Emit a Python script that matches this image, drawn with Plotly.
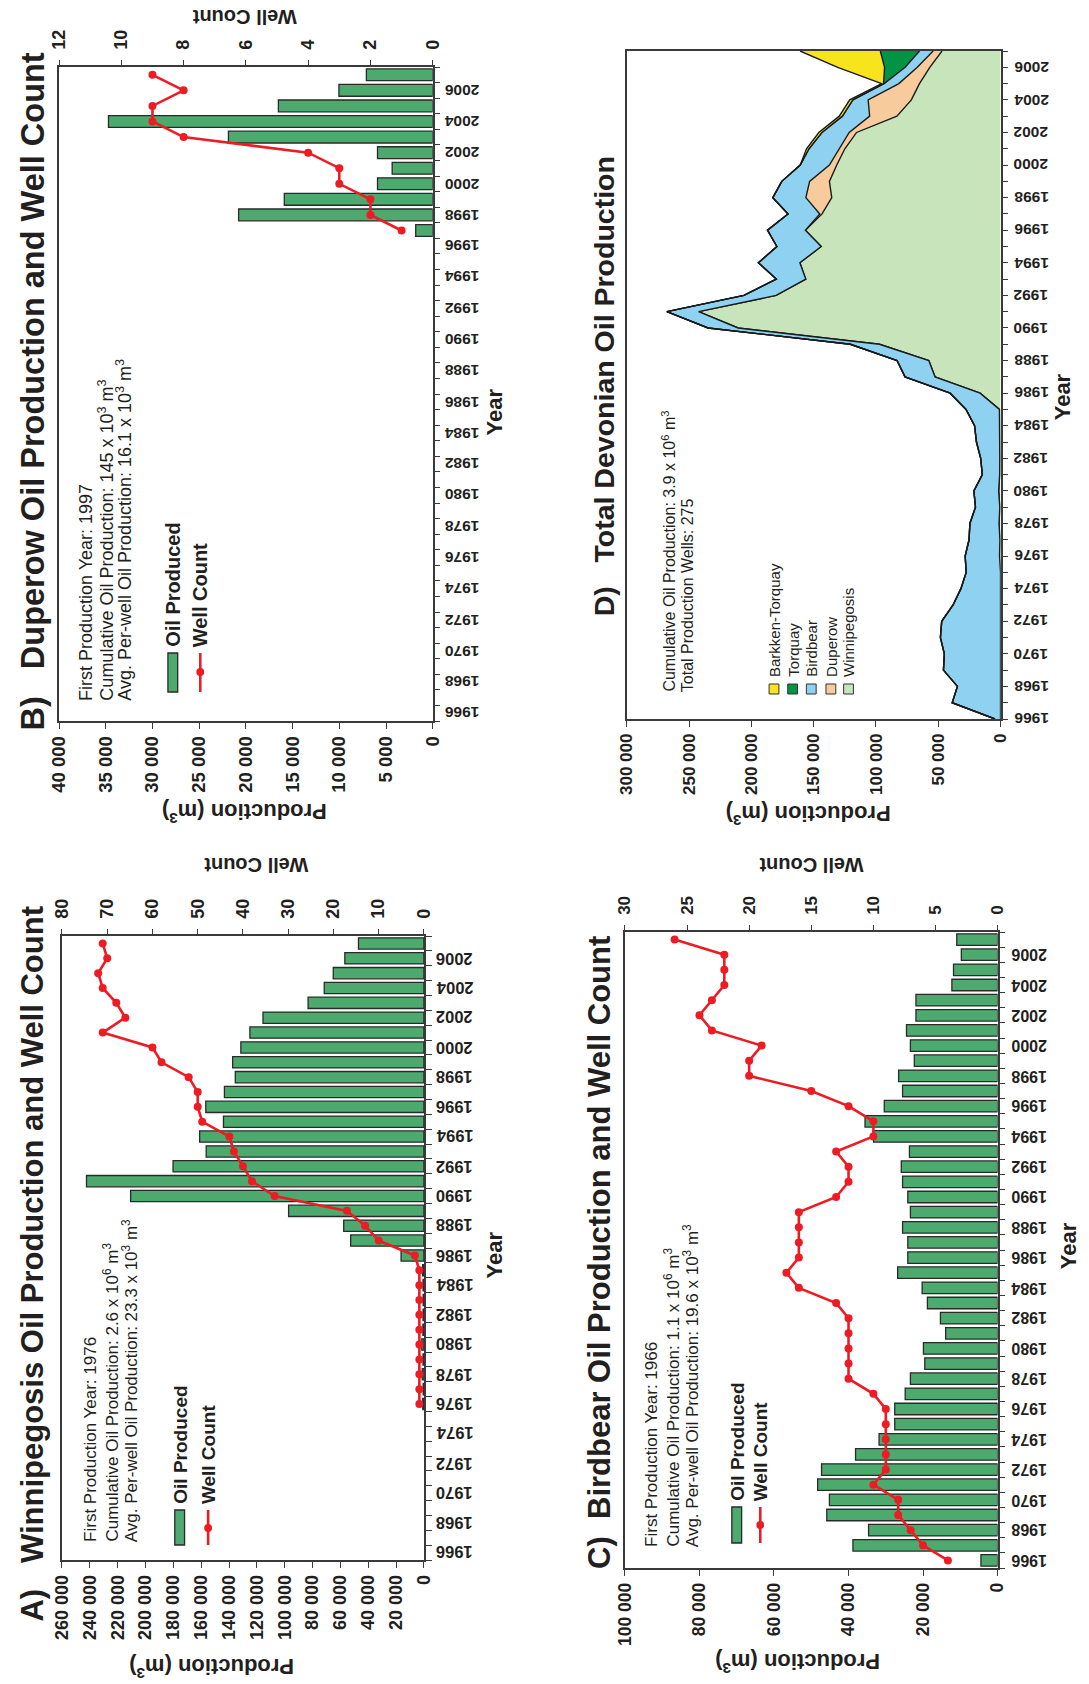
import plotly.graph_objects as go

W, H = 1089, 1684
FONT = "Liberation Sans, Arial, Helvetica, sans-serif"
INK = "#231f20"
AXIS = "#3a3a3a"
BAR_GREEN = "#4caa6e"
BAR_EDGE = "#2a2a2a"
RED = "#ed1c24"

# ---------------- Winnipegosis (annual production, m3, and producing wells)
win_years = list(range(1976, 2008))
win_prod = [800, 500, 1200, 600, 1500, 700, 600, 500, 600, 900,
            16400, 52600, 57600, 97200, 210700, 242400, 180200, 156400, 161100, 144000,
            156700, 143300, 135500, 137400, 131500, 125000, 115600, 83200, 71600, 65100,
            56800, 47000]
win_wells = [1, 1, 1, 1, 1, 1, 1, 1, 1, 1,
             2, 10, 13, 17, 33, 38, 40, 42, 43, 49,
             50, 50, 52, 58, 60, 71, 66, 68, 71, 72,
             70, 71]

# ---------------- Duperow
dup_years = list(range(1997, 2008))
dup_prod = [1820, 20780, 15890, 5910, 4340, 5910, 21870, 34710, 16520, 10040, 7100]
dup_wells = [1, 2, 2, 3, 3, 4, 8, 9, 9, 8, 9]

# ---------------- Birdbear
bb_years = list(range(1966, 2008))
bb_prod = [4470, 38820, 34620, 45840, 45130, 48290, 47240, 38120, 31810, 27600,
           27600, 24800, 23400, 19540, 19900, 13940, 15340, 18840, 20250, 26820,
           24100, 24100, 25500, 23400, 24100, 25500, 25850, 23660, 33300, 35580,
           30410, 25500, 26560, 22350, 23400, 24450, 21910, 21910, 12270, 11830,
           9730, 10960]
bb_wells = [4, 6, 7, 8, 8, 10, 9, 9, 9, 9,
            9, 10, 12, 12, 12, 12, 12, 13, 16, 17,
            16, 16, 16, 16, 13, 12, 12, 13, 10, 10,
            12, 15, 20, 20, 19, 23, 24, 23, 22, 22,
            22, 26]

# ---------------- Torquay and Bakken-Torquay
torq_years = [2005, 2006, 2007]
torq_prod = [500, 16550, 31500]
bt_years = list(range(2001, 2008))
bt_prod = [2000, 2500, 2500, 2500, 1500, 37600, 64400]

all_years = list(range(1966, 2008))

# ---------------- production axis ticks
win_ticks = [0, 20000, 40000, 60000, 80000, 100000, 120000, 140000,
             160000, 180000, 200000, 220000, 240000, 260000]
win_tick_text = ["0", "20 000", "40 000", "60 000", "80 000", "100 000", "120 000", "140 000",
                 "160 000", "180 000", "200 000", "220 000", "240 000", "260 000"]
dup_ticks = [0, 5000, 10000, 15000, 20000, 25000, 30000, 35000, 40000]
dup_tick_text = ["0", "5 000", "10 000", "15 000", "20 000", "25 000", "30 000", "35 000", "40 000"]
bb_ticks = [0, 20000, 40000, 60000, 80000, 100000]
bb_tick_text = ["0", "20 000", "40 000", "60 000", "80 000", "100 000"]
dev_ticks = [0, 50000, 100000, 150000, 200000, 250000, 300000]
dev_tick_text = ["0", "50 000", "100 000", "150 000", "200 000", "250 000", "300 000"]


def on_all_years(years, values):
    lookup = dict(zip(years, values))
    return [lookup.get(y, 0) for y in all_years]


def px(x):
    return x / W


def py(y):
    return 1 - y / H


half_years = [1965.5 + i for i in range(43)]
even_years = list(range(1966, 2008, 2))

fig = go.Figure()


# ---------------- bars + well count lines
def add_panel(years, prod, wells, xa, xb, ya):
    fig.add_trace(go.Bar(x=prod, y=years, orientation="h", width=0.76,
                         marker=dict(color=BAR_GREEN, line=dict(color=BAR_EDGE, width=1.3)),
                         xaxis=xa, yaxis=ya, name="Oil Produced"))
    fig.add_trace(go.Scatter(x=wells, y=years, mode="lines+markers",
                             line=dict(color=RED, width=2.6),
                             marker=dict(color=RED, size=8, symbol="circle"),
                             xaxis=xb, yaxis=ya, name="Well Count"))


add_panel(win_years, win_prod, win_wells, "x", "x2", "y")
add_panel(dup_years, dup_prod, dup_wells, "x3", "x4", "y2")
add_panel(bb_years, bb_prod, bb_wells, "x5", "x6", "y3")

# ---------------- stacked Devonian total
layers = [
    ("Winnipegosis", on_all_years(win_years, win_prod), "#c8e4bb"),
    ("Duperow", on_all_years(dup_years, dup_prod), "#f8cb9c"),
    ("Birdbear", on_all_years(bb_years, bb_prod), "#8ed1f0"),
    ("Torquay", on_all_years(torq_years, torq_prod), "#009444"),
    ("Barkken-Torquay", on_all_years(bt_years, bt_prod), "#f7e41d"),
]
for name, vals, col in layers:
    fig.add_trace(go.Scatter(x=vals, y=all_years, orientation="h", stackgroup="dev",
                             mode="lines", line=dict(color="#1a1a1a", width=1.4),
                             fillcolor=col, xaxis="x7", yaxis="y4", name=name))


def tfont(size):
    return dict(family=FONT, size=size, color=INK, weight="bold")


def prod_axis(x0, x1, anchor, rng, tickvals, ticktext, size, mirror=False):
    return dict(domain=[px(x0), px(x1)], anchor=anchor, range=rng, tickmode="array",
                tickvals=tickvals, ticktext=ticktext, tickangle=-90, ticks="outside",
                ticklen=6, tickwidth=1.3, tickcolor=AXIS, showline=True, linecolor=AXIS,
                linewidth=1.5, mirror=mirror, showgrid=False, zeroline=False,
                tickfont=tfont(size), ticklabelstandoff=0)


def well_axis(overlay, anchor, rng, dtick, size):
    return dict(overlaying=overlay, anchor=anchor, side="top", range=rng, tickmode="linear",
                tick0=0, dtick=dtick, tickangle=-90, ticks="outside", ticklen=5,
                tickwidth=1.3, tickcolor=AXIS, showline=True, linecolor=AXIS, linewidth=1.5,
                showgrid=False, zeroline=False, tickfont=tfont(size), ticklabelstandoff=7)


def year_axis(y0, y1, anchor, rng, tickvals):
    return dict(domain=[py(y1), py(y0)], anchor=anchor, side="right", range=rng,
                tickmode="array", tickvals=tickvals, showticklabels=False, ticks="outside",
                ticklen=6, tickwidth=1.3, tickcolor=AXIS, showline=True, linecolor=AXIS,
                linewidth=1.5, mirror=True, showgrid=False, zeroline=False)


annotations = []
shapes = []


def text(x, y, s, size, angle, bold=True, xanchor="center", yanchor="middle", xref="paper", yref="paper"):
    f = dict(family=FONT, size=size, color=INK)
    if bold:
        f["weight"] = "bold"
    annotations.append(dict(x=px(x) if xref == "paper" else x,
                            y=py(y) if yref == "paper" else y,
                            xref=xref, yref=yref, text=s, textangle=angle, showarrow=False,
                            font=f, xanchor=xanchor, yanchor=yanchor, borderpad=0))


def year_labels(yref, xc, years, size):
    # year labels, turned upside down beside the year axis
    for yr in years:
        text(xc, yr, str(yr), size, 180, yref=yref)


def legend_bars(swatch_x, swatch_y, text_bottom, line_x, dot_y, size):
    shapes.append(dict(type="rect", xref="paper", yref="paper",
                       x0=px(swatch_x[0]), x1=px(swatch_x[1]), y0=py(swatch_y[1]), y1=py(swatch_y[0]),
                       fillcolor=BAR_GREEN, line=dict(color=BAR_EDGE, width=1.3)))
    text((swatch_x[0] + swatch_x[1]) / 2, text_bottom, "Oil Produced", size, -90, yanchor="bottom")
    shapes.append(dict(type="line", xref="paper", yref="paper",
                       x0=px(line_x), x1=px(line_x), y0=py(swatch_y[1]), y1=py(swatch_y[0]),
                       line=dict(color=RED, width=2.6)))
    shapes.append(dict(type="circle", xref="paper", yref="paper",
                       x0=px(line_x - 4), x1=px(line_x + 4), y0=py(dot_y + 4), y1=py(dot_y - 4),
                       fillcolor=RED, line=dict(color=RED, width=0)))
    text(line_x, text_bottom, "Well Count", size, -90, yanchor="bottom")


SP3 = "\u00a0\u00a0\u00a0"
SP2 = "\u00a0\u00a0"

# ---------------- panel A text
text(21, 1623, "A)" + SP3 + "Winnipegosis Oil Production and Well Count", 31, -90, yanchor="bottom")
text(205, 1668, "Production (m<sup>3</sup>)", 22, 180)
text(250, 865, "Well Count", 20, 180)
text(492, 1255, "Year", 22, -90)
text(81, 1543, "First Production Year: 1976", 17, -90, bold=False, yanchor="bottom")
text(101, 1543, "Cumulative Oil Production: 2.6 x 10<sup>6</sup> m<sup>3</sup>", 17, -90, bold=False, yanchor="bottom")
text(121, 1543, "Avg. Per-well Oil Production: 23.3 x 10<sup>3</sup> m<sup>3</sup>", 17, -90, bold=False, yanchor="bottom")
legend_bars((167, 177), (1510, 1545), 1505, 201, 1528, 19)
year_labels("y", 452, even_years, 16.5)

# ---------------- panel B text
text(22, 732, "B)" + SP3 + "Duperow Oil Production and Well Count", 32.5, -90, yanchor="bottom")
text(238, 813, "Production (m<sup>3</sup>)", 22, 180)
text(238, 17, "Well Count", 20, 180)
text(493, 412, "Year", 22, -90)
text(77, 702, "First Production Year: 1997", 18, -90, bold=False, yanchor="bottom")
text(97, 702, "Cumulative Oil Production: 145 x 10<sup>3</sup> m<sup>3</sup>", 18, -90, bold=False, yanchor="bottom")
text(116, 702, "Avg. Per-well Oil Production: 16.1 x 10<sup>3</sup> m<sup>3</sup>", 18, -90, bold=False, yanchor="bottom")
legend_bars((160, 170), (653, 692), 648, 193, 672, 20)
year_labels("y2", 460, even_years, 15.5)

# ---------------- panel C text
text(600, 1570, "C)" + SP2 + "Birdbear Oil Production and Well Count", 31, -90, yanchor="bottom")
text(802, 1663, "Production (m<sup>3</sup>)", 22, 180)
text(816, 865, "Well Count", 20, 180)
text(1078, 1246, "Year", 22, -90)
text(653, 1548, "First Production Year: 1966", 17, -90, bold=False, yanchor="bottom")
text(673, 1548, "Cumulative Oil Production: 1.1 x 10<sup>6</sup> m<sup>3</sup>", 17, -90, bold=False, yanchor="bottom")
text(693, 1548, "Avg. Per-well Oil Production: 19.6 x 10<sup>3</sup> m<sup>3</sup>", 17, -90, bold=False, yanchor="bottom")
legend_bars((735, 745), (1507, 1543), 1502, 764, 1525, 19)
year_labels("y3", 1038, even_years, 16)

# ---------------- panel D text
text(605, 617, "D)" + SP3 + "Total Devonian Oil Production", 28.5, -90, yanchor="bottom")
text(813, 815, "Production (m<sup>3</sup>)", 22, 180)
text(1073, 397, "Year", 22, -90)
text(670, 693, "Cumulative Oil Production: 3.9 x 10<sup>6</sup> m<sup>3</sup>", 16, -90, bold=False, yanchor="bottom")
text(689.5, 693, "Total Production Wells: 275", 16, -90, bold=False, yanchor="bottom")
legend_x = [778, 797, 816, 836, 854]
for (name, _, col), lx in zip(reversed(layers), legend_x):
    shapes.append(dict(type="rect", xref="paper", yref="paper",
                       x0=px(lx - 5), x1=px(lx + 5), y0=py(694), y1=py(684),
                       fillcolor=col, line=dict(color="#333333", width=1)))
    text(lx, 678, name, 15, -90, bold=False, yanchor="bottom")
year_labels("y4", 1040, even_years, 15.5)

fig.update_layout(
    width=W, height=H, margin=dict(l=0, r=0, t=0, b=0),
    paper_bgcolor="white", plot_bgcolor="white", showlegend=False,
    font=dict(family=FONT, color=INK),
    # panel A
    xaxis=prod_axis(52, 421, "y", [260000, 0], win_ticks, win_tick_text, 18),
    xaxis2=well_axis("x", "y", [80, 0], 10, 18),
    yaxis=year_axis(936, 1560, "x", [1965.5, 2007.5], half_years),
    # panel B
    xaxis3=prod_axis(49, 430, "y2", [40000, 0], dup_ticks, dup_tick_text, 18.5),
    xaxis4=well_axis("x3", "y2", [12, 0], 2, 18),
    yaxis2=year_axis(67, 721, "x3", [1965.5, 2007.5], half_years),
    # panel C
    xaxis5=prod_axis(626, 1006, "y3", [100000, 0], bb_ticks, bb_tick_text, 17.5),
    xaxis6=well_axis("x5", "y3", [30, 0], 5, 17),
    yaxis3=year_axis(932, 1568, "x5", [1965.5, 2007.5], half_years),
    # panel D
    xaxis7=prod_axis(628, 1009, "y4", [300000, 0], dev_ticks, dev_tick_text, 17, mirror=True),
    yaxis4=year_axis(51, 719, "x7", [1966, 2007], all_years),
    annotations=annotations,
    shapes=shapes,
)

fig.write_html("out.html")
